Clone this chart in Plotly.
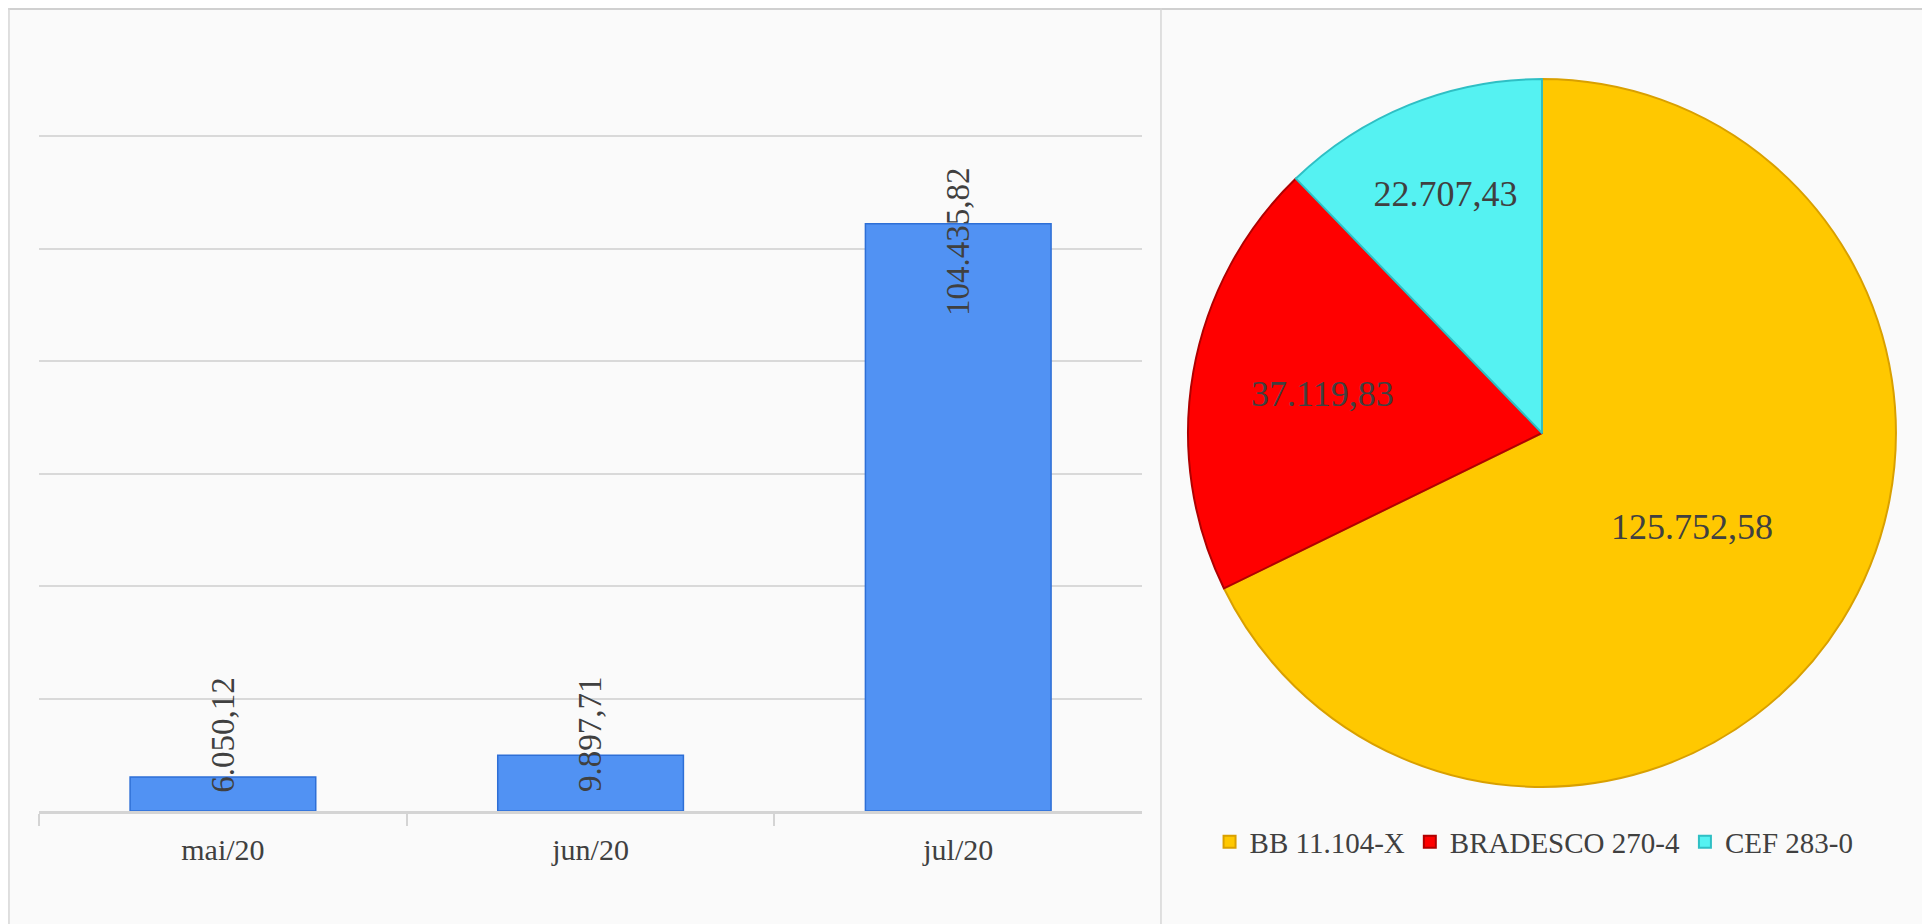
import plotly.graph_objects as go

# monthly totals (left chart)
meses = ['mai/20', 'jun/20', 'jul/20']
valores_mes = [6050.12, 9897.71, 104435.82]

# totals per bank account (right chart)
contas = ['BB 11.104-X', 'BRADESCO 270-4', 'CEF 283-0']
valores_conta = [125752.58, 37119.83, 22707.43]
cores_conta = ['#FFC800', '#FF0000', '#55F2F2']
bordas_conta = ['#D9A000', '#B00000', '#2FBFC4']

y_max = 120000
y_passo = 20000

# the labels were dragged by hand in the original, so nudge each one
desloc_rotulo = [42, 21, -18]

TXT = '#404040'
SERIF = 'Liberation Serif'


def br(v):
    # 104435.82 -> 104.435,82
    return f'{v:,.2f}'.replace(',', 'X').replace('.', ',').replace('X', '.')


fig = go.Figure()

fig.add_trace(go.Bar(
    x=meses, y=valores_mes,
    marker=dict(color='#5192F3', line=dict(color='#2E6FD6', width=1.5)),
    showlegend=False, hoverinfo='x+y',
    xaxis='x', yaxis='y',
))

for m, v, d in zip(meses, valores_mes, desloc_rotulo):
    fig.add_annotation(x=m, y=v, xref='x', yref='y', text=br(v),
                       textangle=-90, showarrow=False, yshift=d,
                       xanchor='center', yanchor='middle',
                       font=dict(family=SERIF, size=33, color=TXT))

fig.add_trace(go.Pie(
    labels=contas, values=valores_conta, sort=False,
    direction='clockwise', rotation=0,
    marker=dict(colors=cores_conta, line=dict(color=bordas_conta, width=2)),
    text=[br(v) for v in valores_conta], textinfo='text',
    textposition='inside', insidetextorientation='horizontal',
    textfont=dict(family=SERIF, size=36, color=TXT),
    domain=dict(x=[0.6114, 0.9782], y=[0.1569, 0.9232]),
    hoverinfo='label+value',
))

fig.update_layout(
    width=1930, height=924,
    margin=dict(l=0, r=0, t=0, b=0),
    paper_bgcolor='#FAFAFA', plot_bgcolor='rgba(0,0,0,0)',
    bargap=0.495,
    xaxis=dict(domain=[0.0161, 0.5876], showgrid=False,
               showline=True, linecolor='#D4D4D4', linewidth=3,
               ticks='outside', tickson='boundaries', ticklen=12,
               tickcolor='#D4D4D4', tickwidth=1.5, ticklabelstandoff=10,
               tickfont=dict(family=SERIF, size=30, color=TXT)),
    yaxis=dict(domain=[0.1310, 0.8626], range=[0, y_max * 1.002], dtick=y_passo,
               showticklabels=False, showgrid=True, gridcolor='#D9D9D9',
               gridwidth=1.5, zeroline=False),
    legend=dict(orientation='h', x=0.7907, xanchor='center', y=0.0974,
                yanchor='middle', font=dict(family=SERIF, size=29, color=TXT),
                itemwidth=30, bgcolor='rgba(0,0,0,0)'),
    font=dict(family=SERIF, color=TXT),
)

# panel borders
fig.add_shape(type='line', xref='paper', yref='paper', x0=0, x1=1, y0=0.9995, y1=0.9995,
              line=dict(color='#D0D0D0', width=3))
fig.add_shape(type='line', xref='paper', yref='paper', x0=0.0005, x1=0.0005, y0=0, y1=1,
              line=dict(color='#D6D6D6', width=1.5))
fig.add_shape(type='line', xref='paper', yref='paper', x0=0.5974, x1=0.5974, y0=0, y1=1,
              line=dict(color='#D6D6D6', width=1.5))

fig.write_html('out.html')
